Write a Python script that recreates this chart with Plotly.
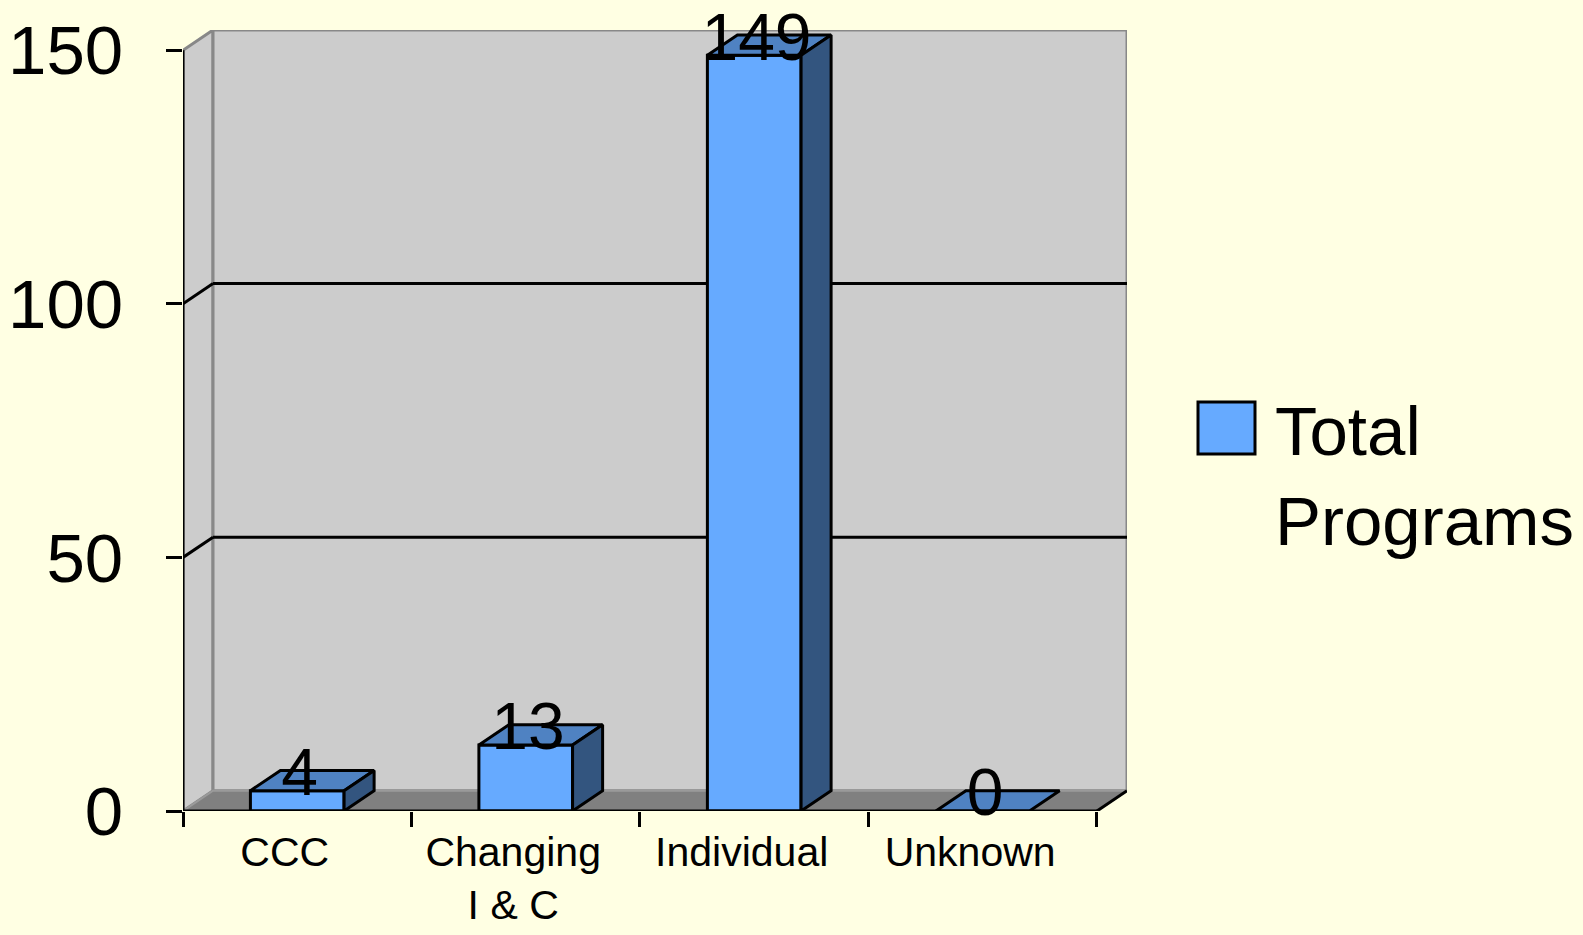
import plotly.graph_objects as go

# ---------------- data ----------------
CATEGORIES = ["CCC", "Changing I & C", "Individual", "Unknown"]
TICK_LABELS = ["CCC", "Changing<br>I & C", "Individual", "Unknown"]
VALUES = [4, 13, 149, 0]
SERIES_NAME = "Total Programs"
Y_TICKS = [0, 50, 100, 150]

# ---------------- style ----------------
W, H = 1583, 935
ML, MR, MT, MB = 183, 456, 30, 124
BG = "#FFFFE3"
WALL = "#CCCCCC"
FLOOR = "#808080"
EDGE = "#888888"
FRONT = "#66AAFF"
TOP = "#4F82C2"
SIDE = "#33557F"
FONT = "Liberation Sans, Arial, sans-serif"
LW = 3

n = len(CATEGORIES)
idx = list(range(n))
x_lo, x_hi = -0.5, n - 0.5
y_max = max(Y_TICKS)
DX = 0.1314   # 3-D depth in category units
DY = 4.0      # 3-D depth in value units
BAR_W = 0.41
LABEL_DY = -1.6


def path(pts):
    return "M " + " L ".join(f"{x},{y}" for x, y in pts) + " Z"


shapes = []
# left wall
shapes.append(dict(type="path", xref="x", yref="y", layer="below",
                   path=path([(x_lo, 0), (x_lo + DX, DY), (x_lo + DX, y_max + DY), (x_lo, y_max)]),
                   fillcolor=WALL, line=dict(color=EDGE, width=LW)))
# back wall
shapes.append(dict(type="path", xref="x", yref="y", layer="below",
                   path=path([(x_lo + DX, DY), (x_hi + DX, DY), (x_hi + DX, y_max + DY), (x_lo + DX, y_max + DY)]),
                   fillcolor=WALL, line=dict(color=EDGE, width=LW)))
# floor
shapes.append(dict(type="path", xref="x", yref="y", layer="below",
                   path=path([(x_lo, 0), (x_hi, 0), (x_hi + DX, DY), (x_lo + DX, DY)]),
                   fillcolor=FLOOR, line=dict(color="#9A9A9A", width=2)))
# gridlines on walls
for v in Y_TICKS[1:-1]:
    shapes.append(dict(type="line", xref="x", yref="y", layer="below",
                       x0=x_lo, y0=v, x1=x_lo + DX, y1=v + DY, line=dict(color="black", width=LW)))
    shapes.append(dict(type="line", xref="x", yref="y", layer="below",
                       x0=x_lo + DX, y0=v + DY, x1=x_hi + DX, y1=v + DY, line=dict(color="black", width=LW)))
# front axis lines
shapes.append(dict(type="line", xref="x", yref="y", layer="above",
                   x0=x_lo, y0=0, x1=x_lo, y1=y_max, line=dict(color="black", width=LW)))
shapes.append(dict(type="line", xref="x", yref="y", layer="above",
                   x0=x_lo, y0=0, x1=x_hi, y1=0, line=dict(color="black", width=LW)))
shapes.append(dict(type="line", xref="x", yref="y", layer="above",
                   x0=x_hi, y0=0, x1=x_hi + DX, y1=DY, line=dict(color="black", width=LW)))

fig = go.Figure()

# front faces
fig.add_trace(go.Bar(x=idx, y=VALUES, width=BAR_W, name=SERIES_NAME,
                     marker=dict(color=FRONT, line=dict(color="black", width=LW)),
                     showlegend=False, hoverinfo="skip"))

# top and side faces
for i, v in zip(idx, VALUES):
    x0, x1 = i - BAR_W / 2, i + BAR_W / 2
    top = [(x0, v), (x1, v), (x1 + DX, v + DY), (x0 + DX, v + DY), (x0, v)]
    fig.add_trace(go.Scatter(x=[p[0] for p in top], y=[p[1] for p in top], mode="lines",
                             fill="toself", fillcolor=TOP, line=dict(color="black", width=LW),
                             showlegend=False, hoverinfo="skip"))
    if v > 0:
        side = [(x1, 0), (x1 + DX, DY), (x1 + DX, v + DY), (x1, v), (x1, 0)]
        fig.add_trace(go.Scatter(x=[p[0] for p in side], y=[p[1] for p in side], mode="lines",
                                 fill="toself", fillcolor=SIDE, line=dict(color="black", width=LW),
                                 showlegend=False, hoverinfo="skip"))

# data labels
fig.add_trace(go.Scatter(x=[i + 0.01 for i in idx], y=[v + DY + LABEL_DY for v in VALUES],
                         text=[str(v) for v in VALUES], mode="text",
                         textposition="middle center", cliponaxis=False,
                         textfont=dict(family=FONT, size=66, color="black"),
                         showlegend=False, hoverinfo="skip"))

# manual legend (large swatch)
PW = W - ML - MR
PH = H - MT - MB


def px(xp):
    return (xp - ML) / PW


def py(yp):
    return (H - MB - yp) / PH


shapes.append(dict(type="rect", xref="paper", yref="paper",
                   x0=px(1198), x1=px(1255), y0=py(454), y1=py(402),
                   fillcolor=FRONT, line=dict(color="black", width=LW)))

annotations = [dict(xref="paper", yref="paper", x=px(1273), y=py(476),
                    xanchor="left", yanchor="middle", align="left", showarrow=False,
                    text=SERIES_NAME.replace(" ", "<br>"),
                    font=dict(family=FONT, size=69, color="black"))]

fig.update_layout(
    width=W, height=H,
    margin=dict(l=ML, r=MR, t=MT, b=MB, pad=0, autoexpand=False),
    paper_bgcolor=BG, plot_bgcolor=BG,
    shapes=shapes, annotations=annotations,
    showlegend=False,
    xaxis=dict(range=[x_lo, x_hi + DX], showgrid=False, zeroline=False, showline=False,
               automargin=False,
               tickmode="array", tickvals=[i - 0.055 for i in idx], ticktext=TICK_LABELS,
               ticks="", ticklabelstandoff=13,
               tickfont=dict(family=FONT, size=41, color="black"),
               minor=dict(tickmode="array", tickvals=[x_lo + k for k in range(n + 1)],
                          ticks="outside", ticklen=15, tickwidth=LW, tickcolor="black",
                          showgrid=False)),
    yaxis=dict(range=[0, y_max + DY], showgrid=False, zeroline=False, showline=False,
               automargin=False,
               tickmode="array", tickvals=Y_TICKS,
               ticks="outside", ticklen=16, tickwidth=LW, tickcolor="black",
               ticklabelstandoff=29,
               tickfont=dict(family=FONT, size=69, color="black")),
)

fig.write_html("out.html", config={"displayModeBar": False},
               post_script="document.body.style.margin='0';")
